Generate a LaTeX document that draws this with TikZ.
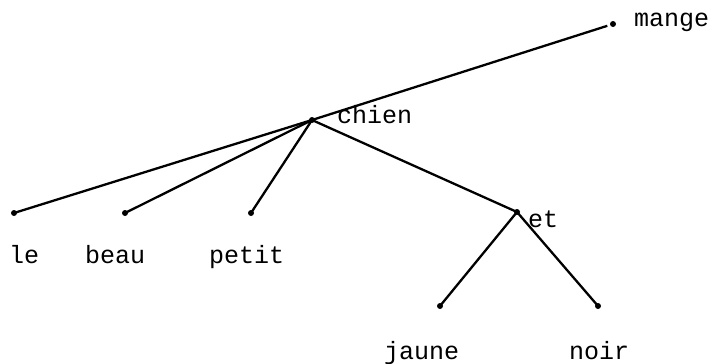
\documentclass[tikz,border=0pt]{standalone}
\usepackage{fontspec}
\setmonofont{Liberation Mono}
\usepackage{tikz}
\usetikzlibrary{positioning}
\tikzset{
  dot/.style={circle, fill=black, inner sep=0pt, minimum size=6pt},
  word/.style={font=\fontsize{25}{29}\selectfont\ttfamily, inner sep=0pt, anchor=base west},
  branch/.style={line width=2.3pt, black}
}
\begin{document}
\begin{tikzpicture}[x=1pt, y=-1pt]
        \useasboundingbox (0,0) rectangle (718,364);
        \node[dot] (mange) at (613,24) {};
        \node[dot] (chien) at (312,120) {};
        \node[dot] (le) at (14,213) {};
        \node[dot] (beau) at (125,213) {};
        \node[dot] (petit) at (251,213) {};
        \node[dot] (et) at (517,212) {};
        \node[dot] (jaune) at (440,306) {};
        \node[dot] (noir) at (598,306) {};
        \node[word] (wmange) at (634,27) {mange};
        \node[word] (wchien) at (337,123) {chien};
        \node[word] (wle) at (9,263) {le};
        \node[word] (wbeau) at (85,263) {beau};
        \node[word] (wpetit) at (209,263) {petit};
        \node[word] (wet) at (528,227) {et};
        \node[word] (wjaune) at (384,359) {jaune};
        \node[word] (wnoir) at (569,359) {noir};
        \draw[branch, shorten >=6pt] (chien.center) -- (mange.center);
        \draw[branch] (le.center) -- (chien.center); \draw[branch] (beau.center) -- (chien.center);
        \draw[branch] (petit.center) -- (chien.center); \draw[branch] (chien.center) -- (et.center);
        \draw[branch] (et.center) -- (jaune.center); \draw[branch] (et.center) -- (noir.center);
      \end{tikzpicture}
\end{document}
